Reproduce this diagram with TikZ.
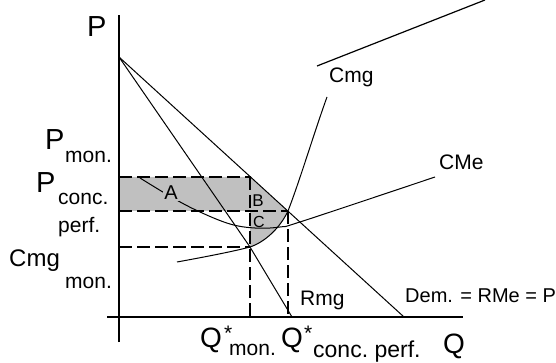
\documentclass[tikz,border=0pt]{standalone}
\usepackage{fontspec}
\setmainfont{Liberation Sans}
\usepackage{xcolor}
\usetikzlibrary{calc, positioning}

\definecolor{shadegray}{RGB}{192,192,192}

\begin{document}
\begin{tikzpicture}[
  x = 1pt, y = -1pt,
  axis/.style   = {line width=1.8pt},
  curve/.style  = {line width=1pt},
  guide/.style  = {line width=1.4pt, dash pattern=on 13pt off 5pt},
  big/.style    = {font=\fontsize{29}{29}\selectfont, inner sep=0pt, anchor=base west},
  lbl/.style    = {font=\fontsize{21}{21}\selectfont, inner sep=0pt, anchor=base west},
  area/.style   = {font=\fontsize{17}{17}\selectfont, inner sep=0pt},
]
\useasboundingbox (0,0) rectangle (556,363);

%% ── Key points ──────────────────────────────────────────────────────────
\coordinate (O)     at (119,317);
\coordinate (ytop)  at (119,15);
\coordinate (ybot)  at (119,342);
\coordinate (xl)    at (107,317);
\coordinate (xr)    at (463,317);
\coordinate (pint)  at (119,57);     % common intercept of Dem. and Rmg
\coordinate (dend)  at (404,317);
\coordinate (rend)  at (292,317);
\coordinate (pmon)  at (250.5,177);  % monopoly price on demand
\coordinate (pcp)   at (288,211);    % competitive price: Dem. = Cmg
\coordinate (cmon)  at (250,247);    % Cmg = Rmg
\coordinate (cstart) at (177,262);
\coordinate (cend)  at (327,97);
\coordinate (sA)    at (317,66);
\coordinate (sB)    at (485,0);

%% ── Welfare areas A, B, C ───────────────────────────────────────────────
\fill[shadegray] (119,177) -- (pmon) -- (pcp)
  .. controls (280,228) and (265,242) .. (cmon)
  -- (250,211) -- (119,211) -- cycle;

%% ── Guide lines ─────────────────────────────────────────────────────────
\draw[guide] (119,177) -- (pmon);
\draw[guide] (119,211) -- (pcp);
\draw[guide] (119,247) -- (cmon);
\draw[guide] (250,177) -- (250,317);
\draw[guide] (pcp) -- (288,317);

%% ── Curves ──────────────────────────────────────────────────────────────
\draw[curve] (pint) -- (dend);
\draw[curve] (pint) -- (cmon) -- (rend);
\draw[curve] (cstart) .. controls (210,256) and (235,251) .. (cmon)
  .. controls (265,242) and (280,228) .. (pcp)
  .. controls (300,180) and (315,130) .. (cend);
\draw[curve] plot[smooth, tension=0.6] coordinates
  {(140,178) (173,198) (200,212) (230,224) (255,228) (280,227) (303,221) (435,177)};
\draw[line width=1.2pt] (sA) -- (sB);

%% ── Axes ────────────────────────────────────────────────────────────────
\draw[axis] (ybot) -- (ytop);
\draw[axis] (xl) -- (xr);

%% ── Area labels ─────────────────────────────────────────────────────────
\node[area, font=\fontsize{20}{20}\selectfont, fill=shadegray, inner sep=1pt] (lA) at (171,193) {A};
\node[area] (lB) at (258,201) {B};
\node[area, font=\fontsize{16}{16}\selectfont] (lC) at (259,222) {C};

%% ── Axis labels ─────────────────────────────────────────────────────────
\node[big] (Plab) at (87,37) {P};
\node[big, font=\fontsize{28}{28}\selectfont] (Qlab) at (443,353) {Q};

\node[big] (Pm) at (45,150) {P};
\node[lbl] (Pmsub) at (65,163) {mon.};
\node[big] (Pc) at (36,193) {P};
\node[lbl] (Pcsub) at (58,205) {conc.};
\node[lbl] (Pcsub2) at (58,233) {perf.};
\node[lbl, font=\fontsize{24}{24}\selectfont] (Cm) at (9,266) {Cmg};
\node[lbl] (Cmsub) at (65,288) {mon.};

\node[big, font=\fontsize{28}{28}\selectfont] (Qm) at (200,347) {Q};
\node[lbl] (Qmstar) at (224,340) {*};
\node[lbl] (Qmsub) at (229,355) {mon.};
\node[big, font=\fontsize{28}{28}\selectfont] (Qc) at (281,347) {Q};
\node[lbl] (Qcstar) at (304,340) {*};
\node[lbl, font=\fontsize{23}{23}\selectfont] (Qcsub) at (313,357) {conc.~perf.};

%% ── Curve labels ────────────────────────────────────────────────────────
\node[lbl] (Cmglab) at (329,83)  {Cmg};
\node[lbl] (CMelab) at (439,170) {CMe};
\node[lbl] (Rmglab) at (300,305) {Rmg};
\node[lbl, font=\fontsize{20}{20}\selectfont] (Demlab) at (405,302) {Dem. = RMe = P};

\end{tikzpicture}
\end{document}
